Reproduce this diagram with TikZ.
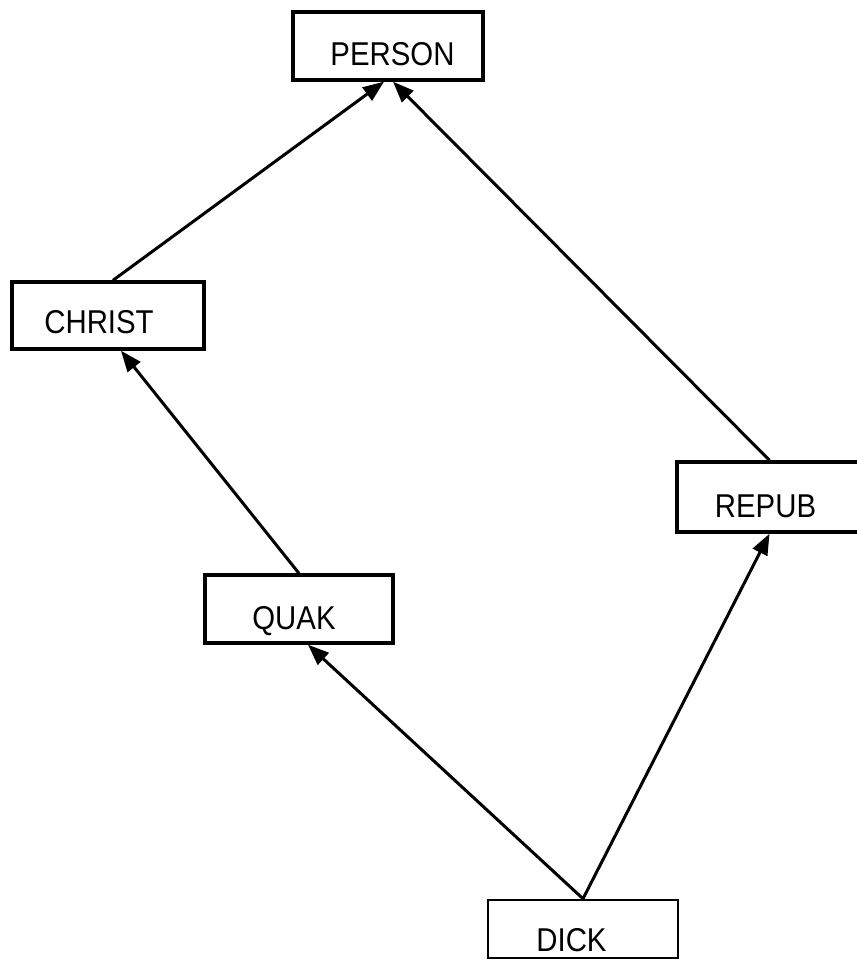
\documentclass[tikz,border=0pt]{standalone}
\usepackage{fontspec}
\setmainfont{Liberation Sans}
\usetikzlibrary{arrows.meta}

% slightly condensed capitals for the class names
\newcommand{\cname}[1]{\scalebox{0.89}[1]{#1}}

\tikzset{
  classbox/.style={draw, line width=3.4pt, rectangle, inner sep=0pt},
  classname/.style={inner sep=0pt, font=\fontsize{33}{33}\selectfont},
  isa/.style={line width=3pt, -{Triangle[length=21pt,width=16pt]}},
}

\begin{document}
\begin{tikzpicture}[x=1pt,y=-1pt]
  \useasboundingbox (0,0) rectangle (857,967);
  \clip (0,0) rectangle (857,967);

  % class boxes
  \node[classbox, minimum width=190pt, minimum height=68pt] (person) at (388,46) {};
  \node[classbox, minimum width=192pt, minimum height=67pt] (christ) at (108,315.5) {};
  \node[classbox, minimum width=188pt, minimum height=68pt] (quak) at (299,609) {};
  \node[classbox, minimum width=185pt, minimum height=70pt] (repub) at (769.5,497) {};
  \node[classbox, line width=2.6pt, minimum width=190pt, minimum height=58pt] (dick) at (583,929) {};

  % class names
  \node[classname] (person-t) at (392.5,54.5) {\cname{PERSON}};
  \node[classname] (christ-t) at (99,322.5) {\cname{CHRIST}};
  \node[classname] (quak-t) at (294,621) {\cname{QUAK}};
  \node[classname] (repub-t) at (765.5,506.5) {\cname{REPUB}};
  \node[classname] (dick-t) at (571.5,940.5) {\cname{DICK}};

  % is-a links
  \draw[isa] ([xshift=5pt]christ.north) -- ([xshift=-4pt]person.south);
  \draw[isa] (repub.north) -- ([xshift=5pt]person.south);
  \draw[isa] (quak.north) -- ([xshift=13pt]christ.south);
  \draw[isa] (dick.north) -- ([xshift=9pt]quak.south);
  \draw[isa] (dick.north) -- (repub.south);
\end{tikzpicture}
\end{document}
